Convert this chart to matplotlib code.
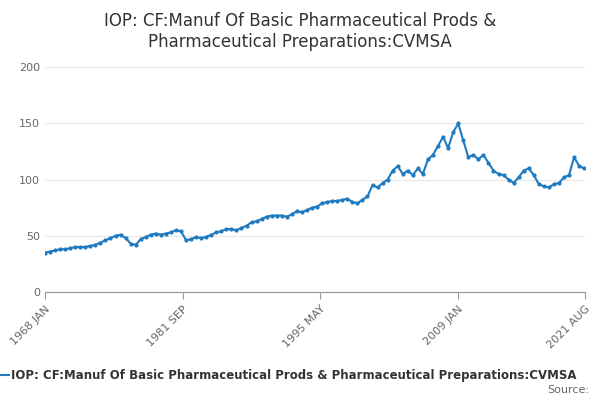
import numpy as np
import pandas as pd
import matplotlib
matplotlib.use("Agg")
import matplotlib.pyplot as plt


def build_series():
    # half-yearly readings taken off the chart, 1968 JAN .. 2021 AUG
    values = [
        35, 36, 37, 38, 38, 39, 40, 40, 40, 41, 42, 44, 46, 48, 50, 51,
        48, 43, 42, 47, 49, 51, 52, 51, 52, 53, 55, 54, 46, 47, 49, 48,
        49, 51, 53, 54, 56, 56, 55, 57, 59, 62, 63, 65, 67, 68, 68, 68,
        67, 69, 72, 71, 73, 75, 76, 79, 80, 81, 81, 82, 83, 80, 79, 82,
        85, 95, 93, 97, 100, 108, 112, 105, 108, 104, 110, 105, 118, 122,
        130, 138, 128, 142, 150, 135, 120, 122, 118, 122, 115, 108, 105, 104,
        100, 97, 102, 108, 110, 104, 96, 94, 93, 96, 97, 102, 104, 120,
        112, 110,
    ]
    dates = pd.date_range("1968-01-01", periods=len(values), freq="6MS")
    return pd.Series(values, index=dates)


def plot_series(series):
    fig, ax = plt.subplots(figsize=(6, 4), dpi=100)
    fig.subplots_adjust(left=0.075, right=0.975, top=0.832, bottom=0.27)

    ax.plot(series.index, series.values, color="#1f7bc1", lw=1.5,
            marker="o", ms=2)

    ax.set_ylim(0, 200)
    ax.set_yticks([0, 50, 100, 150, 200])
    ax.set_xlim(pd.Timestamp("1968-01-01"), pd.Timestamp("2021-08-01"))
    ticks = pd.to_datetime(["1968-01-01", "1981-09-01", "1995-05-01",
                            "2009-01-01", "2021-08-01"])
    ax.set_xticks(ticks)
    ax.set_xticklabels(["1968 JAN", "1981 SEP", "1995 MAY", "2009 JAN", "2021 AUG"],
                       rotation=45, ha="right", rotation_mode="anchor")
    ax.tick_params(colors="#666666", labelsize=8, length=0)
    ax.tick_params(axis="x", length=5, color="#999999")
    ax.grid(axis="y", color="#e6e6e6", lw=0.8)
    for side in ("top", "right", "left"):
        ax.spines[side].set_visible(False)
    ax.spines["bottom"].set_color("#999999")

    fig.suptitle("IOP: CF:Manuf Of Basic Pharmaceutical Prods &\n"
                 "Pharmaceutical Preparations:CVMSA",
                 fontsize=12, color="#333333", y=0.97)

    fig.lines.append(plt.Line2D([0.0, 0.015], [0.062, 0.062], transform=fig.transFigure,
                                color="#1f7bc1", lw=1.5))
    fig.text(0.018, 0.062, "IOP: CF:Manuf Of Basic Pharmaceutical Prods & Pharmaceutical Preparations:CVMSA",
             fontsize=8.5, fontweight="bold", color="#333333", va="center")
    fig.text(0.982, 0.025, "Source:", fontsize=8, color="#666666", ha="right", va="center")
    return fig


fig = plot_series(build_series())
fig.savefig("out.png")
